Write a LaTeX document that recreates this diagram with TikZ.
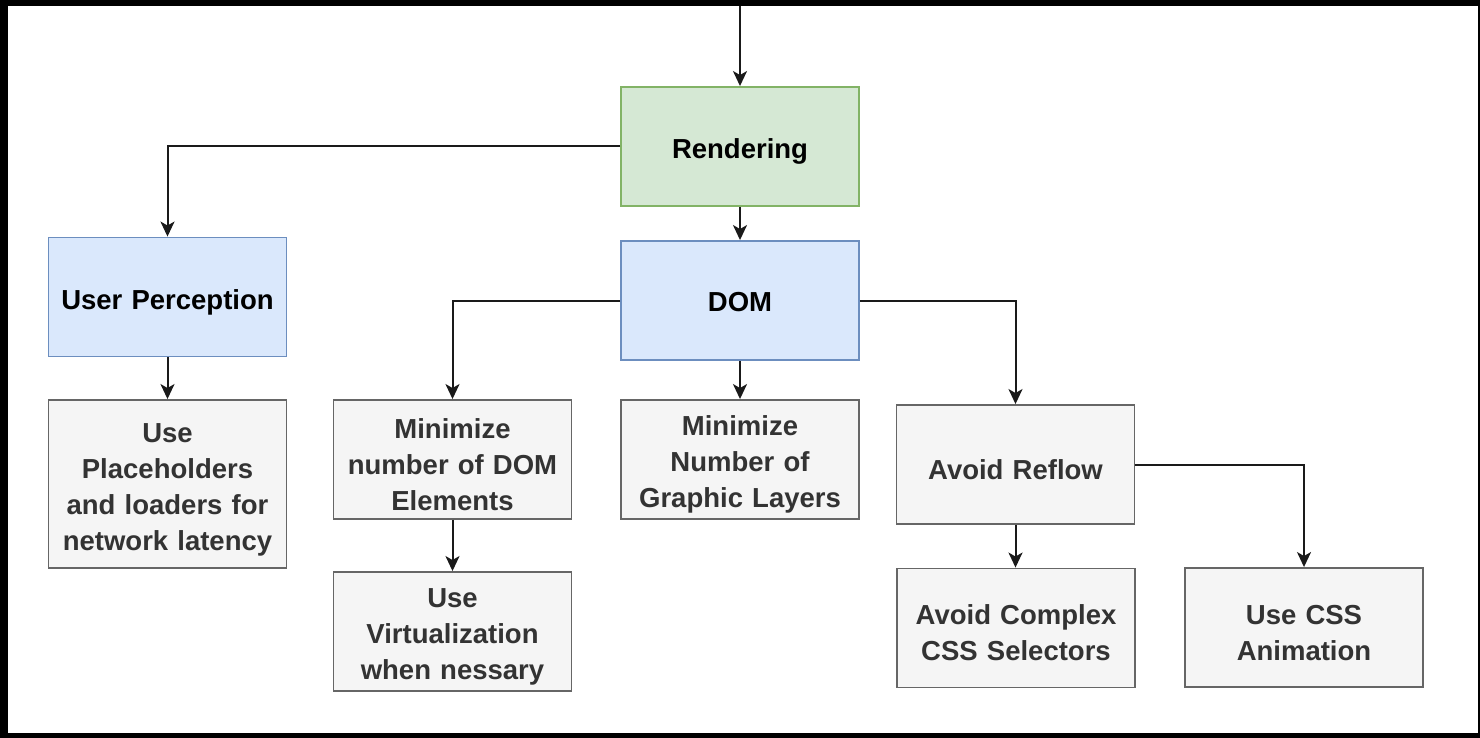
\documentclass[tikz,border=0pt]{standalone}
\usepackage{fontspec}
\setmainfont{Liberation Sans}
\usetikzlibrary{arrows.meta}
\definecolor{grnfill}{HTML}{D5E8D4}
\definecolor{grnline}{HTML}{82B366}
\definecolor{blufill}{HTML}{DAE8FC}
\definecolor{bluline}{HTML}{6C8EBF}
\definecolor{gryfill}{HTML}{F5F5F5}
\definecolor{gryline}{HTML}{666666}
\definecolor{grytext}{HTML}{333333}
\definecolor{conn}{HTML}{1A1A1A}
\tikzset{
  base/.style={rectangle, minimum width=238pt, minimum height=119pt, inner sep=0pt,
    line width=1.9pt, align=center, text width=232pt,
    font=\fontsize{27.5}{36}\selectfont\bfseries,
    execute at begin node={\rule{0pt}{30pt}}},
  greenbox/.style={base, fill=grnfill, draw=grnline, text=black},
  bluebox/.style={base, fill=blufill, draw=bluline, text=black},
  graybox/.style={base, fill=gryfill, draw=gryline, text=grytext},
  conarrow/.style={draw=conn, line width=2pt, -{Stealth[length=15pt,width=14pt,inset=4pt]}}
}
\begin{document}
\begin{tikzpicture}[x=1pt,y=-1pt]
\fill[black] (0,0) rectangle (1480,738);
\fill[white] (8,6) rectangle (1478,733);
\useasboundingbox (0,0) rectangle (1480,738);

\node[greenbox] (rend) at (740,146.5) {Rendering};
\node[bluebox] (up) at (167.5,297) {User Perception};
\node[bluebox] (dom) at (740,300.5) {DOM\rule[-8pt]{0pt}{0pt}};
\node[graybox, minimum height=168pt] (ph) at (167.5,484) {Use\\Placeholders\\and loaders for\\network latency};
\node[graybox] (mindom) at (452.5,459.5) {Minimize\\number of DOM\\Elements};
\node[graybox] (mingl) at (740,459.5) {Minimize\\Number of\\Graphic Layers};
\node[graybox] (reflow) at (1015.5,464.5) {Avoid Reflow};
\node[graybox] (virt) at (452.5,631.5) {Use\\Virtualization\\when nessary};
\node[graybox] (cplx) at (1016,628) {Avoid Complex\\CSS Selectors};
\node[graybox] (anim) at (1304,627.5) {Use CSS\\Animation};

\coordinate (topin) at (740,6);
\draw[conarrow] (topin) -- (rend.north);
\draw[conarrow] (rend.west) -| (up.north);
\draw[conarrow] (rend.south) -- (dom.north);
\draw[conarrow] (up.south) -- (ph.north);
\draw[conarrow] (dom.west) -| (mindom.north);
\draw[conarrow] (dom.south) -- (mingl.north);
\draw[conarrow] (dom.east) -| (reflow.north);
\draw[conarrow] (mindom.south) -- (virt.north);
\draw[conarrow] (reflow.south) -- (reflow.south |- cplx.north);
\draw[conarrow] (reflow.east) -| (anim.north);
\end{tikzpicture}
\end{document}
